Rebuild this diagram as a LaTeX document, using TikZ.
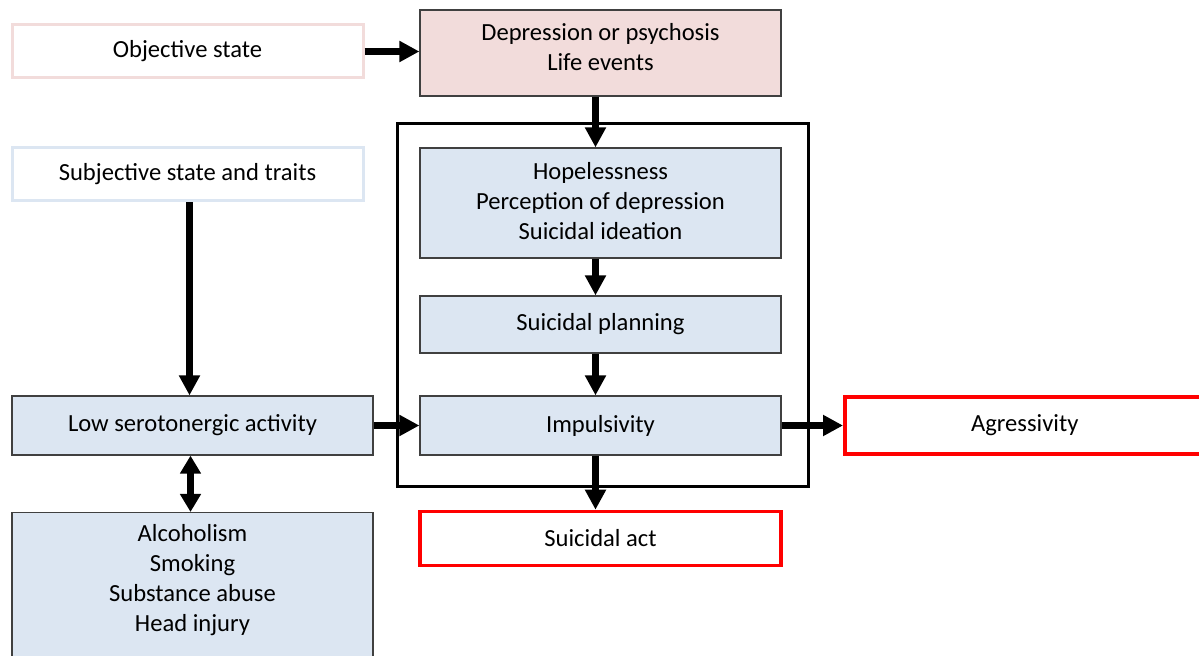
\documentclass[tikz,border=0pt]{standalone}
\usepackage{fontspec}
\setmainfont{Carlito}
\usetikzlibrary{arrows.meta, positioning, fit}

\definecolor{pinkfill}{HTML}{F2DCDB}
\definecolor{bluefill}{HTML}{DCE6F2}
\definecolor{edgegray}{HTML}{404040}

\begin{document}
\begin{tikzpicture}[
    x=0.5pt, y=-0.5pt,
    every node/.style={font=\fontsize{12.3}{15}\selectfont, align=center},
    box/.style={draw=edgegray, line width=0.6pt, minimum width=180.5pt, minimum height=28pt, inner sep=2pt},
    pinkbox/.style={box, fill=pinkfill},
    bluebox/.style={box, fill=bluefill},
    outlinebox/.style={box, fill=white, line width=1.5pt},
    redbox/.style={box, draw=red, fill=white, line width=1.8pt},
    frame/.style={draw, line width=1.75pt, inner sep=0pt},
    arr/.style={-{Triangle[length=10pt, width=10pt]}, line width=3.2pt},
    dblarr/.style={{Triangle[length=9pt, width=10pt]}-{Triangle[length=9pt, width=10pt]}, line width=3.2pt}
]
\useasboundingbox (0,0) rectangle (1199,656);

% Left column
\node[outlinebox, draw=pinkfill, minimum width=175.5pt, minimum height=26.5pt] (obj) at (187.5, 51.5) {Objective state};
\node[outlinebox, draw=bluefill, minimum width=175.5pt, minimum height=26.5pt] (subj) at (187.5, 174.5) {Subjective state and traits};
\node[bluebox, minimum height=29.5pt] (sero) at (192.5, 425.5) {\raisebox{2pt}{Low serotonergic activity}};
\node[bluebox, anchor=north, minimum height=100pt] (alc) at (192.5, 512) {};
\node (alctext) at (192.5, 580.5) {Alcoholism\\Smoking\\Substance abuse\\Head injury};

% Middle column
\node[pinkbox, minimum height=43pt] (dep) at (600.5, 53) {};
\node (deptext) at (600.5, 47) {Depression or psychosis\\Life events};
\node[bluebox, minimum height=55pt] (hope) at (600.5, 203) {};
\node (hopetext) at (600.5, 201) {Hopelessness\\Perception of depression\\Suicidal ideation};
\node[bluebox, minimum height=28.5pt] (plan) at (600.5, 324.5) {\raisebox{1pt}{Suicidal planning}};
\node[bluebox, minimum height=29.5pt] (imp) at (600.5, 425.5) {\raisebox{2pt}{Impulsivity}};
\node[redbox, minimum height=27pt] (act) at (600.5, 538.5) {Suicidal act};

% Frame round the inner chain
\coordinate (coretl) at ([xshift=-11pt, yshift=12pt]hope.north west);
\coordinate (corebr) at ([xshift=13.5pt, yshift=-15.5pt]imp.south east);
\node[frame, fit=(coretl)(corebr)] (core) {};

% Right
\node[redbox, anchor=west, minimum width=180pt, minimum height=28.5pt] (agr) at (843, 425.5) {\raisebox{1pt}{Agressivity}};

% Arrows
\draw[arr] (obj.east) -- (obj.east -| dep.west);
\draw[arr] ([xshift=-2.5pt]dep.south) -- ([xshift=-2.5pt]hope.north);
\draw[arr] ([xshift=-2.5pt]hope.south) -- ([xshift=-2.5pt]plan.north);
\draw[arr] ([xshift=-2.5pt]plan.south) -- ([xshift=-2.5pt]imp.north);
\draw[arr] ([xshift=-2.5pt]imp.south) -- ([xshift=-2.5pt]act.north);
\draw[arr] ([xshift=1pt]subj.south) -- ([xshift=1pt]subj.south |- sero.north);
\draw[arr] (sero.east) -- (imp.west);
\draw[arr] (imp.east) -- (agr.west);
\draw[dblarr] ([xshift=-1pt]sero.south) -- ([xshift=-1pt]alc.north);

\end{tikzpicture}
\end{document}
